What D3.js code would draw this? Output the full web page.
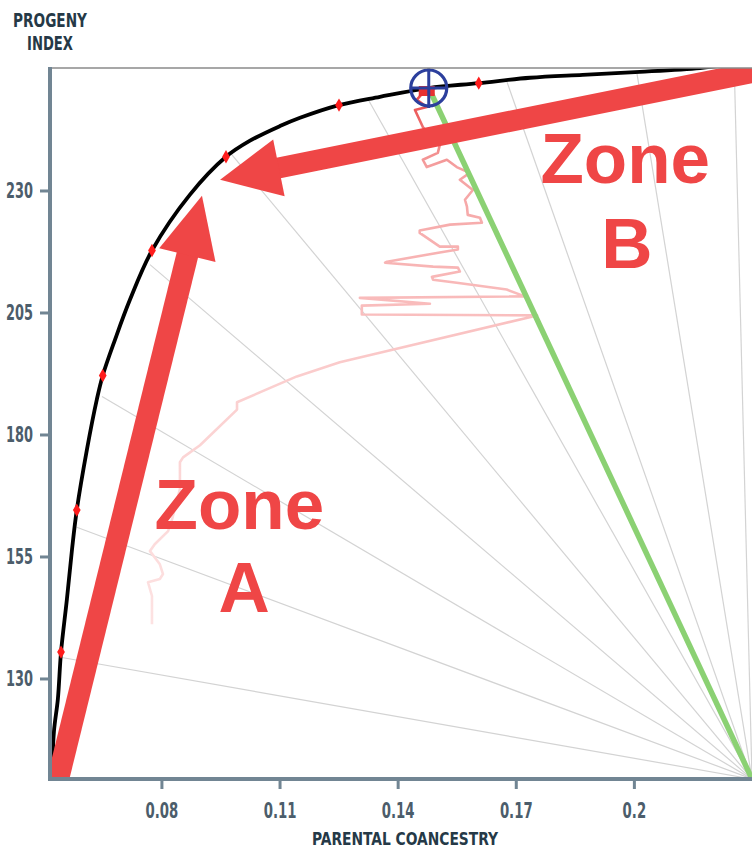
<!DOCTYPE html>
<html><head><meta charset="utf-8">
<script src="https://cdn.jsdelivr.net/npm/d3@7"></script>
<style>body{margin:0;background:#fff}</style>
</head><body>
<svg id="c" width="752" height="850"></svg>
<script>
// ---------- data ----------
const xTicks = [0.08, 0.11, 0.14, 0.17, 0.2];
const xTickLabels = ["0.08", "0.11", "0.14", "0.17", "0.2"];
const yTicks = [130, 155, 180, 205, 230];
const yTickLabels = ["130", "155", "180", "205", "230"];

// efficient frontier (parental coancestry vs progeny index)
const frontierX = [0.0522,0.0527,0.0537,0.0545,0.0560,0.0573,0.0585,0.0611,0.0636,0.0651,0.0682,0.0720,0.0776,0.0872,0.0964,0.1025,0.1101,0.1152,0.1251,0.1355,0.1479,0.1606,0.1736,0.1870,0.2015,0.2168,0.2260];
const frontierY = [109.4,119.1,125.8,135.4,146.3,156.5,164.5,177.0,187.2,192.1,199.4,207.6,217.7,229.1,236.9,240.2,243.2,244.9,247.5,249.2,251.0,252.0,253.1,253.7,254.3,255.1,256.0];

// solutions marked on the frontier
const dotX = [0.0545,0.0585,0.0651,0.0776,0.0964,0.1251,0.1606];
const dotY = [135.4,164.5,192.1,217.7,236.9,247.5,252.0];

// fan of target angles from the corner
const rayOrigin = [0.2300, 109.4];
const rayEndX = [0.0547,0.0585,0.0649,0.0771,0.0975,0.1324,0.1677,0.2008,0.2255];
const rayEndY = [134.3,161.0,187.8,214.8,237.7,248.8,252.4,253.9,255.1];

// selected target
const target = [0.1479, 251.0];

// optimisation search trace
const traceX = [0.0776,0.0776,0.0766,0.0796,0.0804,0.0796,0.0771,0.0783,0.0817,0.0827,0.0847,0.0847,0.0855,0.0898,0.0992,0.0992,0.1144,0.1253,0.1754,0.1309,0.1309,0.1482,0.1304,0.1723,0.1677,0.1550,0.1490,0.1487,0.1558,0.1553,0.1490,0.1368,0.1373,0.1507,0.1553,0.1553,0.1507,0.1456,0.1456,0.1533,0.1614,0.1609,0.1578,0.1576,0.1571,0.1591,0.1558,0.1583,0.1550,0.1525,0.1474,0.1464,0.1502,0.1507,0.1482,0.1464,0.1444,0.1474,0.1449,0.1464,0.1479];
const traceY = [141.1,146.9,149.7,150.4,151.4,153.4,156.1,157.5,160.2,162.6,168.8,174.3,175.3,177.8,185.1,186.6,191.9,194.8,204.4,204.6,206.4,206.8,208.0,208.3,209.7,211.1,211.7,212.3,213.4,214.2,214.4,215.2,215.4,217.3,217.9,218.5,218.5,221.3,221.8,223.0,223.4,224.4,225.0,226.7,228.1,230.1,232.2,233.6,234.8,236.3,234.8,236.3,237.7,239.3,241.4,243.0,246.5,247.1,248.6,250.0,251.0];

// annotation arrows and labels
const zoneAFrom = [0.0524, 105.0], zoneATo = [0.0903, 228.9];
const zoneBFrom = [0.2295, 254.1], zoneBTo = [0.0949, 232.2];
const zoneLabels = [
  {text: "Zone", x: 0.0998, y: 160.6},
  {text: "A",    x: 0.1010, y: 143.6},
  {text: "Zone", x: 0.1978, y: 231.6},
  {text: "B",    x: 0.1982, y: 214.2}
];

// ---------- layout ----------
const W = 752, H = 850;
const m = {left: 50, top: 68, right: 0, bottom: 71};
const svg = d3.select("#c");
const x = d3.scaleLinear().domain([0.0517, 0.2300]).range([m.left, W - m.right]);
const y = d3.scaleLinear().domain([109.4, 255.1]).range([H - m.bottom, m.top]);

const axisCol = "#718593", tickTxt = "#4c5d6b", titleCol = "#253947", red = "#ef4646";
const condFont = "'DejaVu Sans Condensed','DejaVu Sans',sans-serif";

svg.append("defs").append("clipPath").attr("id","plot")
  .append("rect").attr("x", m.left).attr("y", m.top)
  .attr("width", W - m.left - m.right).attr("height", H - m.top - m.bottom);

const grad = svg.select("defs").append("linearGradient").attr("id","pinkg")
  .attr("gradientUnits","userSpaceOnUse")
  .attr("x1",0).attr("x2",0).attr("y1", y(141)).attr("y2", y(251));
[[0,"#fde2e2"],[0.45,"#fbcfcf"],[0.6,"#f9bcbc"],[0.85,"#f5a2a2"],[1,"#e84040"]]
  .forEach(([o,c]) => grad.append("stop").attr("offset",o).attr("stop-color",c));

const plot = svg.append("g").attr("clip-path","url(#plot)");

// fan rays
plot.selectAll(".ray").data(rayEndX.map((v,i)=>[v,rayEndY[i]])).join("line")
  .attr("x1", x(rayOrigin[0])).attr("y1", y(rayOrigin[1]))
  .attr("x2", d=>x(d[0])).attr("y2", d=>y(d[1]))
  .attr("stroke","#d3d3d3").attr("stroke-width",1.2);

// search trace
plot.append("path")
  .attr("d", d3.line().x((d,i)=>x(traceX[i])).y((d,i)=>y(traceY[i]))(traceX))
  .attr("fill","none").attr("stroke","url(#pinkg)").attr("stroke-width",2.6)
  .attr("stroke-linejoin","round");

// selected ray (green)
plot.append("line")
  .attr("x1", x(rayOrigin[0])).attr("y1", y(rayOrigin[1]))
  .attr("x2", x(target[0])).attr("y2", y(target[1]))
  .attr("stroke","#8bd173").attr("stroke-width",5.5);

// frontier
plot.append("path")
  .attr("d", d3.line().curve(d3.curveCatmullRom.alpha(0.5))
    .x((d,i)=>x(frontierX[i])).y((d,i)=>y(frontierY[i]))(frontierX))
  .attr("fill","none").attr("stroke","#000").attr("stroke-width",3.8);

// dots
plot.selectAll(".dot").data(dotX.map((v,i)=>[v,dotY[i]])).join("path")
  .attr("transform", d=>`translate(${x(d[0])},${y(d[1])})`)
  .attr("d", d3.symbol().type(d3.symbolDiamond).size(52)())
  .attr("fill","#ff1c1c");

// target marker
const tx = x(target[0]), ty = y(target[1]);
const tg = plot.append("g").attr("transform",`translate(${tx},${ty})`);
tg.append("rect").attr("x",-10).attr("y",-2).attr("width",16).attr("height",10).attr("fill","#e83030");
tg.append("circle").attr("r",18).attr("fill","none").attr("stroke","#2c3f9d").attr("stroke-width",3.2);
tg.append("line").attr("x1",0).attr("x2",0).attr("y1",-22).attr("y2",20).attr("stroke","#2c3f9d").attr("stroke-width",3);
tg.append("line").attr("x1",-18).attr("x2",18).attr("y1",0).attr("y2",0).attr("stroke","#2c3f9d").attr("stroke-width",3);

// arrows
function arrow(p0, p1, shaftW, headL, headW, cap) {
  const x0=x(p0[0]), y0=y(p0[1]), x1=x(p1[0]), y1=y(p1[1]);
  const dx=x1-x0, dy=y1-y0, L=Math.hypot(dx,dy), ux=dx/L, uy=dy/L, nx=-uy, ny=ux;
  const bx=x1-ux*headL, by=y1-uy*headL;
  plot.append("line").attr("x1",x0).attr("y1",y0).attr("x2",bx+ux*3).attr("y2",by+uy*3)
    .attr("stroke",red).attr("stroke-width",shaftW).attr("stroke-linecap",cap);
  plot.append("path")
    .attr("d",`M${x1},${y1}L${bx+nx*headW/2},${by+ny*headW/2}L${bx-nx*headW/2},${by-ny*headW/2}Z`)
    .attr("fill",red);
}
arrow(zoneAFrom, zoneATo, 22, 61, 58, "butt");
arrow(zoneBFrom, zoneBTo, 21, 60, 58, "round");

// zone labels
plot.selectAll(".zl").data(zoneLabels).join("text")
  .attr("x", d=>x(d.x)).attr("y", d=>y(d.y))
  .attr("text-anchor","middle")
  .attr("font-family","'Liberation Sans',Arial,sans-serif").attr("font-weight","bold")
  .attr("font-size",71).attr("fill",red).text(d=>d.text);

// ---------- axes ----------
// top border
svg.append("line").attr("x1",m.left).attr("x2",W).attr("y1",m.top).attr("y2",m.top)
  .attr("stroke","#8a8a8a").attr("stroke-width",1.4);

const gy = svg.append("g").attr("transform",`translate(${m.left},0)`)
  .call(d3.axisLeft(y).tickValues(yTicks).tickFormat((d,i)=>yTickLabels[i]).tickSize(10).tickSizeOuter(0));
gy.select(".domain").remove();
gy.selectAll(".tick line").attr("stroke",axisCol).attr("stroke-width",3);
gy.selectAll(".tick text").attr("x",0).attr("dy","0.36em")
  .attr("transform","translate(-17,0) scale(0.7,1)")
  .attr("font-family",condFont).attr("font-weight","bold").attr("font-size",20.5).attr("fill",tickTxt);

const gx = svg.append("g").attr("transform",`translate(0,${H - m.bottom})`)
  .call(d3.axisBottom(x).tickValues(xTicks).tickFormat((d,i)=>xTickLabels[i]).tickSize(10).tickSizeOuter(0));
gx.select(".domain").remove();
gx.selectAll(".tick line").attr("stroke",axisCol).attr("stroke-width",3);
gx.selectAll(".tick text").attr("y",0).attr("dy",0)
  .attr("transform","translate(0,39) scale(0.72,1)")
  .attr("font-family",condFont).attr("font-weight","bold").attr("font-size",20.5).attr("fill",tickTxt);

// axis lines
svg.append("line").attr("x1",m.left).attr("x2",m.left).attr("y1",m.top-1).attr("y2",H-m.bottom+2)
  .attr("stroke",axisCol).attr("stroke-width",4);
svg.append("line").attr("x1",m.left-2).attr("x2",W).attr("y1",H-m.bottom).attr("y2",H-m.bottom)
  .attr("stroke",axisCol).attr("stroke-width",4);

// titles
function title(txt, cx, by, len, fs) {
  svg.append("text").attr("x",cx).attr("y",by).attr("text-anchor","middle")
    .attr("font-family",condFont).attr("font-weight","bold").attr("font-size",fs)
    .attr("fill",titleCol).attr("textLength",len).attr("lengthAdjust","spacingAndGlyphs").text(txt);
}
title("PROGENY", 50, 27, 74, 19);
title("INDEX", 50, 50, 46, 19);
title("PARENTAL COANCESTRY", 405, 845, 186, 17.5);
</script>
</body></html>
